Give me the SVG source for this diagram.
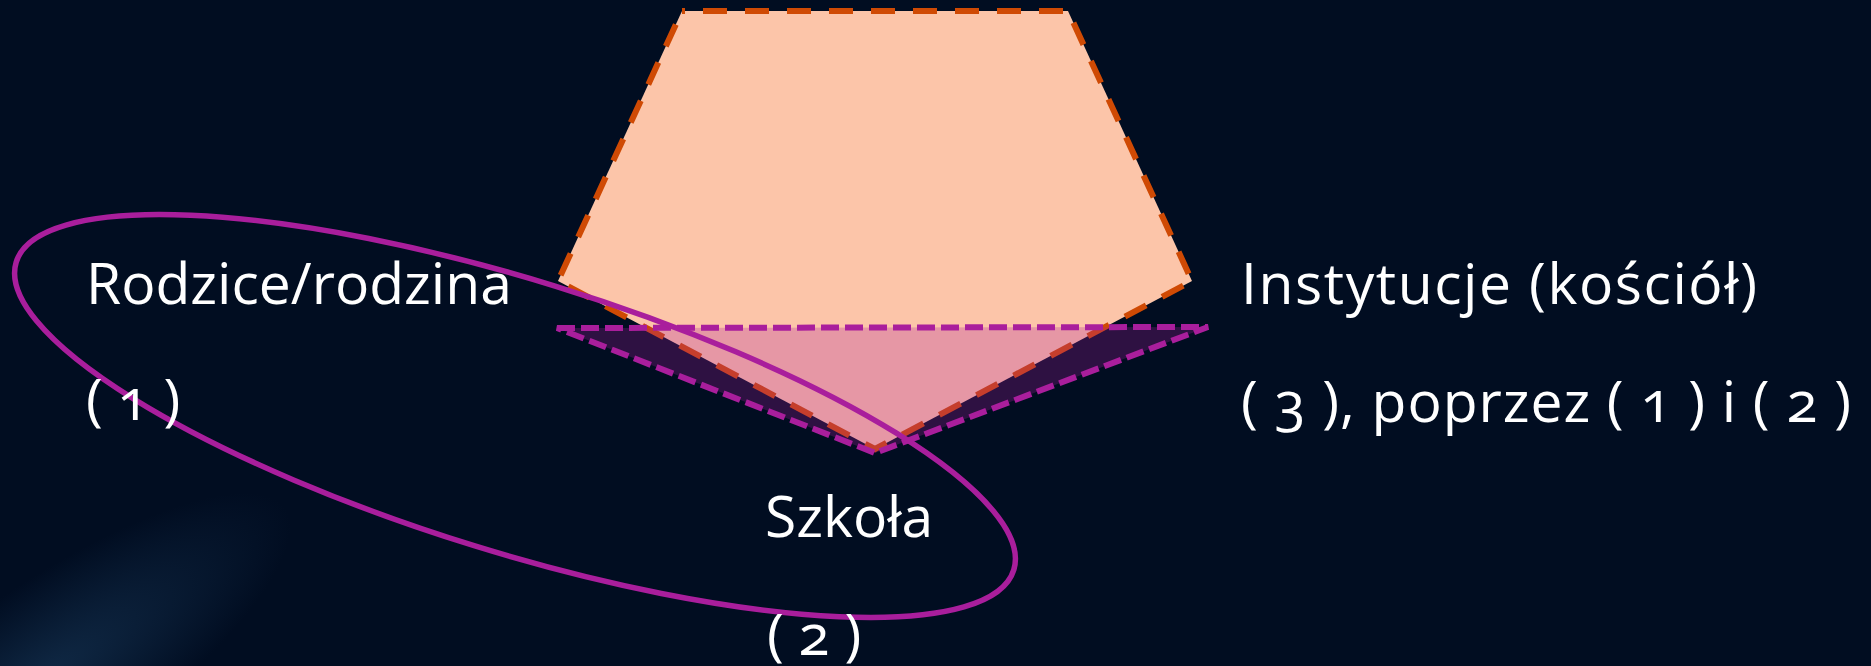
<svg xmlns="http://www.w3.org/2000/svg" width="1871" height="666" viewBox="0 0 1871 666">
  <style>
    .lbl { font-family: "Open Sans", "Noto Sans", "Liberation Sans", sans-serif; font-size: 57px; fill: #FFFFFF; font-variant-numeric: oldstyle-nums; }
    .pent { fill: #FCC5A9; stroke: #CF4A04; stroke-width: 6; stroke-dasharray: 24 18; stroke-dashoffset: 21; stroke-linejoin: miter; }
    .tri { fill: #A91E9C; fill-opacity: 0.27; stroke: #A91E9C; stroke-width: 6; stroke-dasharray: 18 6; stroke-linejoin: miter; }
    .ell { fill: none; stroke: #A91E9C; stroke-width: 5.5; }
  </style>
  <defs>
    <radialGradient id="glow" cx="0" cy="0" r="1" gradientUnits="userSpaceOnUse" gradientTransform="translate(40 680) rotate(-35) scale(300 90)">
      <stop offset="0" stop-color="#1E4468" stop-opacity="0.5"/>
      <stop offset="1" stop-color="#1E4468" stop-opacity="0"/>
    </radialGradient>
  </defs>
  <rect id="background" x="0" y="0" width="1871" height="666" fill="#010D21"/>
  <rect x="0" y="0" width="1871" height="666" fill="url(#glow)"/>

  <g id="pentagon">
    <path class="pent" d="M682,11 L1068,11 L1192,281 L875,449 L558,281 Z"/>
  </g>
  <g id="triangle">
    <path class="tri" d="M557,328 L1208,327 L875,453 Z"/>
  </g>
  <g id="connectors">
    <ellipse class="ell" cx="515" cy="416" rx="522" ry="136" transform="rotate(17.15 515 416)"/>
  </g>

  <g id="node-rodzice">
    <text class="lbl" x="86" y="304">Rodzice/rodzina</text>
    <text class="lbl" x="86" y="420">( 1 )</text>
  </g>
  <g id="node-instytucje">
    <text class="lbl" x="1241" y="304" textLength="516" lengthAdjust="spacing">Instytucje (kościół)</text>
    <text class="lbl" x="1241" y="422" textLength="610" lengthAdjust="spacing">( 3 ), poprzez ( 1 ) i ( 2 )</text>
  </g>
  <g id="node-szkola">
    <text class="lbl" x="765" y="537">Szkoła</text>
    <text class="lbl" x="767" y="655">( 2 )</text>
  </g>
</svg>
